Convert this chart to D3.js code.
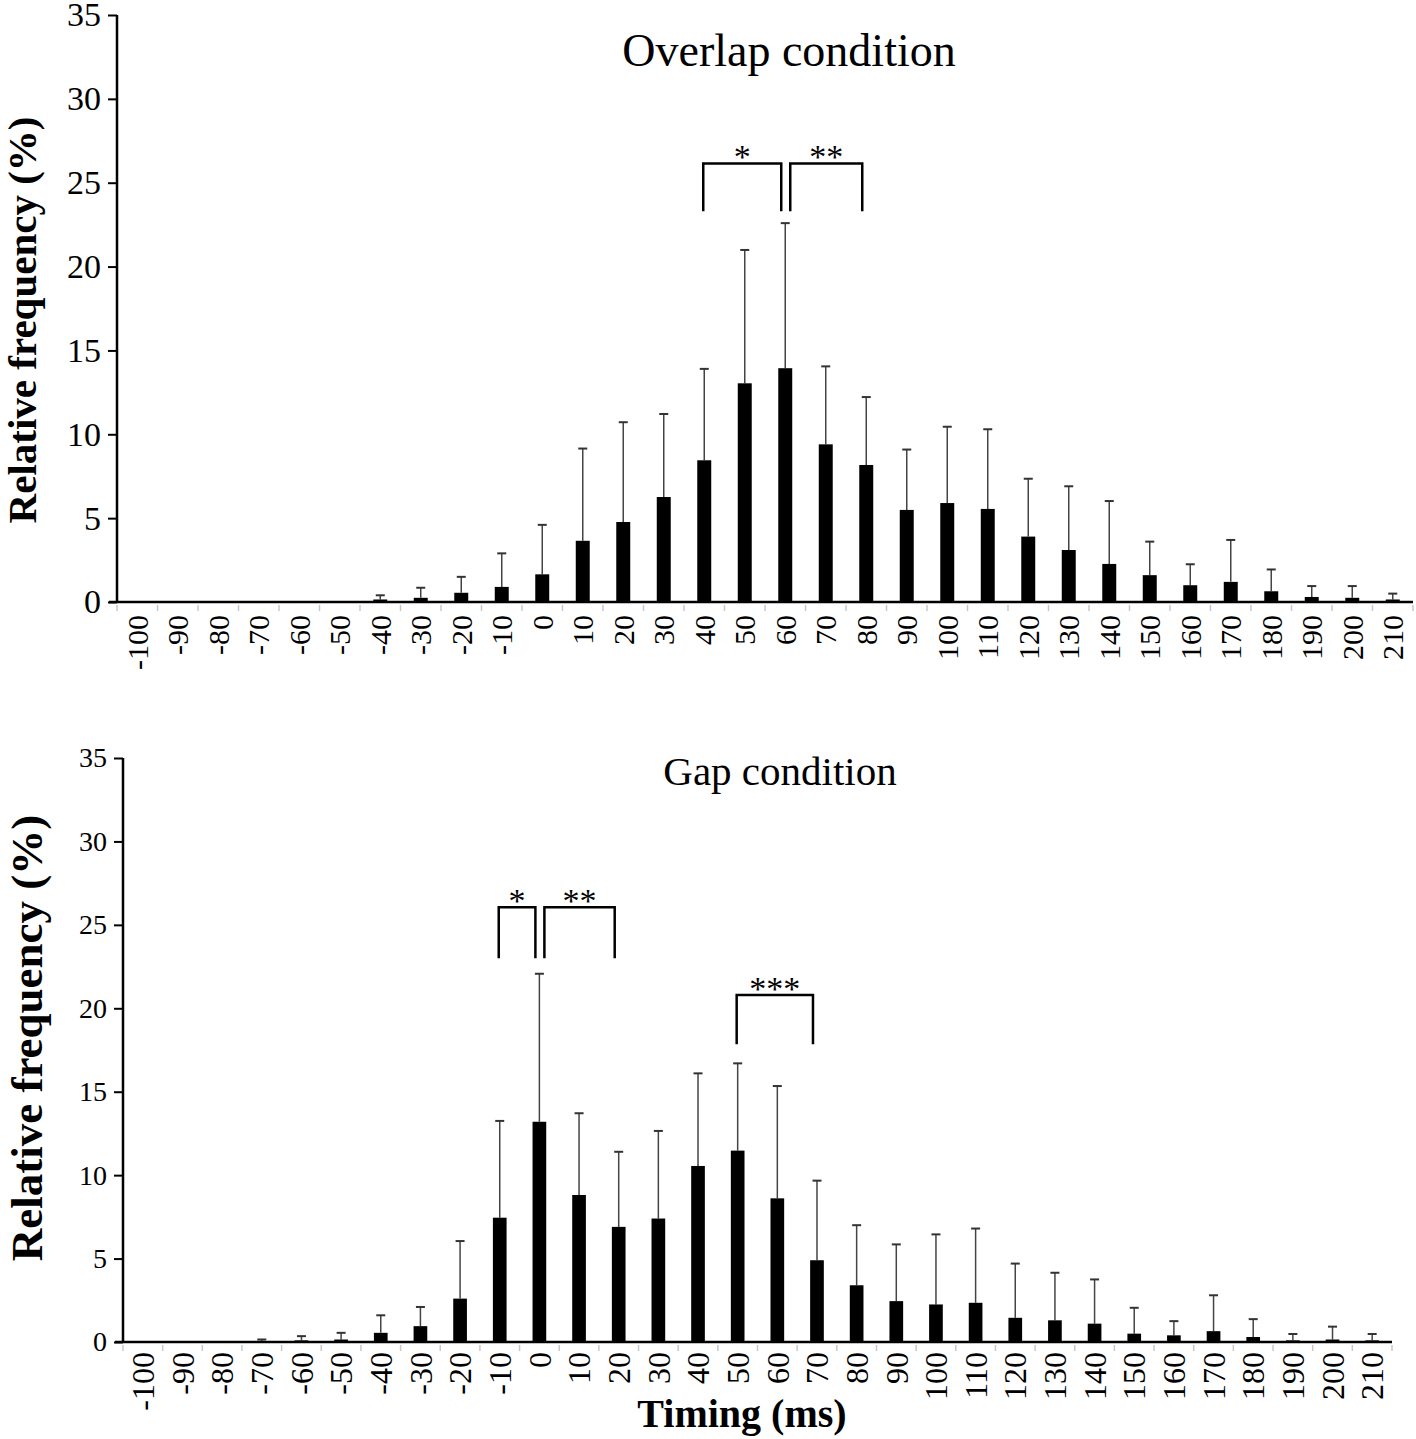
<!DOCTYPE html>
<html>
<head>
<meta charset="utf-8">
<script src="https://cdn.jsdelivr.net/npm/d3@7"></script>
<style>
  body { margin: 0; background: #fff; }
  text { font-family: "Liberation Serif", "Times New Roman", serif; fill: #000; }
</style>
</head>
<body>
<div id="chart"></div>
<script>
// timing bins (ms)
var timing = ["-100","-90","-80","-70","-60","-50","-40","-30","-20","-10","0","10","20","30","40","50",
  "60","70","80","90","100","110","120","130","140","150","160","170","180","190","200","210"];

// overlap condition: mean and SD (%)
var overlapMean = [0,0,0,0,0,0,0.15,0.25,0.55,0.9,1.65,3.65,4.77,6.26,8.45,13.04,
  13.94,9.4,8.17,5.49,5.9,5.55,3.9,3.1,2.27,1.6,1.0,1.2,0.64,0.3,0.25,0.15];
var overlapSD = [0,0,0,0,0,0,0.25,0.6,0.95,2.0,2.95,5.5,5.95,4.95,5.45,7.95,
  8.65,4.65,4.05,3.6,4.55,4.75,3.45,3.8,3.75,2.0,1.25,2.5,1.3,0.65,0.7,0.35];

// gap condition: mean and SD (%)
var gapMean = [0,0,0,0.05,0.1,0.15,0.55,0.95,2.6,7.45,13.2,8.81,6.9,7.4,10.55,11.47,
  8.61,4.9,3.4,2.45,2.25,2.35,1.45,1.3,1.1,0.5,0.4,0.65,0.3,0.1,0.15,0.1];
var gapSD = [0,0,0,0.1,0.25,0.4,1.05,1.15,3.45,5.8,8.87,4.9,4.5,5.25,5.55,5.23,
  6.73,4.77,3.6,3.4,4.2,4.45,3.25,2.85,2.65,1.55,0.85,2.15,1.07,0.38,0.77,0.38];

// significance brackets: [from, to, top, bottom, label]
var overlapSig = [["40","60",26.15,23.3,"*"], ["60","80",26.15,23.3,"**"]];
var gapSig = [["-10","0",26.05,23.0,"*"], ["0","20",26.05,23.0,"**"], ["50","70",20.8,17.85,"***"]];

var yTicks = [0,5,10,15,20,25,30,35];

var svg = d3.select("#chart").append("svg")
  .attr("width", 1416)
  .attr("height", 1439);

function panel(cfg) {
  var x = d3.scaleBand().domain(timing).range([cfg.left, cfg.right]).padding(0);
  var y = d3.scaleLinear().domain([0, 35]).range([cfg.bottom, cfg.top]);
  var g = svg.append("g");
  var bw = x.bandwidth() * 0.345;
  var rows = timing.map(function(t, i) { return {t: t, m: cfg.mean[i], sd: cfg.sd[i]}; });

  // error bars (upper only)
  var eb = rows.filter(function(d) { return d.sd > 0; });
  g.selectAll(".err").data(eb).enter().append("line")
    .attr("x1", d => x(d.t) + x.bandwidth() / 2)
    .attr("x2", d => x(d.t) + x.bandwidth() / 2)
    .attr("y1", d => y(d.m))
    .attr("y2", d => y(d.m + d.sd))
    .attr("stroke", "#444").attr("stroke-width", 1.5);
  g.selectAll(".cap").data(eb).enter().append("line")
    .attr("x1", d => x(d.t) + x.bandwidth() / 2 - 4.5)
    .attr("x2", d => x(d.t) + x.bandwidth() / 2 + 4.5)
    .attr("y1", d => y(d.m + d.sd))
    .attr("y2", d => y(d.m + d.sd))
    .attr("stroke", "#333").attr("stroke-width", 2);

  // bars
  g.selectAll(".bar").data(rows.filter(d => d.m > 0)).enter().append("rect")
    .attr("x", d => x(d.t) + x.bandwidth() / 2 - bw / 2)
    .attr("width", bw)
    .attr("y", d => y(d.m))
    .attr("height", d => y(0) - y(d.m))
    .attr("fill", "#000");

  // x axis: gray ticks at band edges
  var edges = timing.map(t => x(t)).concat([cfg.right]);
  g.selectAll(".xt").data(edges).enter().append("line")
    .attr("x1", d => d).attr("x2", d => d)
    .attr("y1", y(0) + 3).attr("y2", y(0) + 9)
    .attr("stroke", "#c8c8c8").attr("stroke-width", 1.5);
  g.append("line")
    .attr("x1", cfg.left - 8).attr("x2", cfg.right)
    .attr("y1", y(0)).attr("y2", y(0))
    .attr("stroke", "#000").attr("stroke-width", 2.5);
  g.selectAll(".xl").data(timing).enter().append("text")
    .attr("transform", d => "translate(" + (x(d) + x.bandwidth() / 2) + "," + (y(0) + cfg.xlabOff) + ") rotate(-90)")
    .attr("text-anchor", "end")
    .attr("dy", "0.35em")
    .style("font-size", cfg.xfont + "px")
    .text(d => d);

  // y axis
  var yAxis = d3.axisLeft(y).tickValues(yTicks).tickSize(9).tickPadding(7);
  var ya = g.append("g").attr("transform", "translate(" + cfg.left + ",0)").call(yAxis);
  ya.select(".domain").attr("stroke", "#000").attr("stroke-width", 2.5)
    .attr("d", "M0," + y(35) + "V" + y(0));
  ya.selectAll(".tick line").attr("stroke", "#000").attr("stroke-width", 2);
  ya.selectAll(".tick text")
    .style("font-family", "'Liberation Serif', serif")
    .style("font-size", cfg.yfont + "px")
    .attr("fill", "#000");

  g.append("text")
    .attr("transform", "translate(" + cfg.ylabX + "," + cfg.ylabY + ") rotate(-90)")
    .attr("text-anchor", "middle")
    .style("font-size", cfg.ylabFont + "px")
    .style("font-weight", "bold")
    .text("Relative frequency (%)");

  g.append("text")
    .attr("x", cfg.titleX).attr("y", cfg.titleY)
    .attr("text-anchor", "middle")
    .style("font-size", cfg.titleFont + "px")
    .text(cfg.title);

  // significance brackets
  cfg.sig.forEach(function(s) {
    var shared = cfg.sig.some(function(o) { return o !== s && o[1] === s[0]; });
    var x0 = x(s[0]) + x.bandwidth() / 2 + (shared ? 5 : -1);
    var x1 = x(s[1]) + x.bandwidth() / 2 - 4;
    g.append("path")
      .attr("d", "M" + x0 + "," + y(s[3]) + "V" + y(s[2]) + "H" + x1 + "V" + y(s[3]))
      .attr("fill", "none").attr("stroke", "#000").attr("stroke-width", 2.5);
    g.append("text")
      .attr("x", (x0 + x1) / 2).attr("y", y(s[2]) + 5)
      .attr("text-anchor", "middle")
      .style("font-size", "34px")
      .text(s[4]);
  });
}

panel({
  left: 117, right: 1413, top: 15, bottom: 602,
  mean: overlapMean, sd: overlapSD, sig: overlapSig,
  xfont: 30, xlabOff: 13, yfont: 34,
  ylabX: 36, ylabY: 320, ylabFont: 41,
  title: "Overlap condition", titleX: 789, titleY: 66, titleFont: 46
});

panel({
  left: 123, right: 1392, top: 758, bottom: 1342,
  mean: gapMean, sd: gapSD, sig: gapSig,
  xfont: 32, xlabOff: 10, yfont: 28,
  ylabX: 42, ylabY: 1038, ylabFont: 45,
  title: "Gap condition", titleX: 780, titleY: 785, titleFont: 41
});

svg.append("text")
  .attr("x", 742).attr("y", 1427)
  .attr("text-anchor", "middle")
  .style("font-size", "40px")
  .style("font-weight", "bold")
  .text("Timing (ms)");
</script>
</body>
</html>
